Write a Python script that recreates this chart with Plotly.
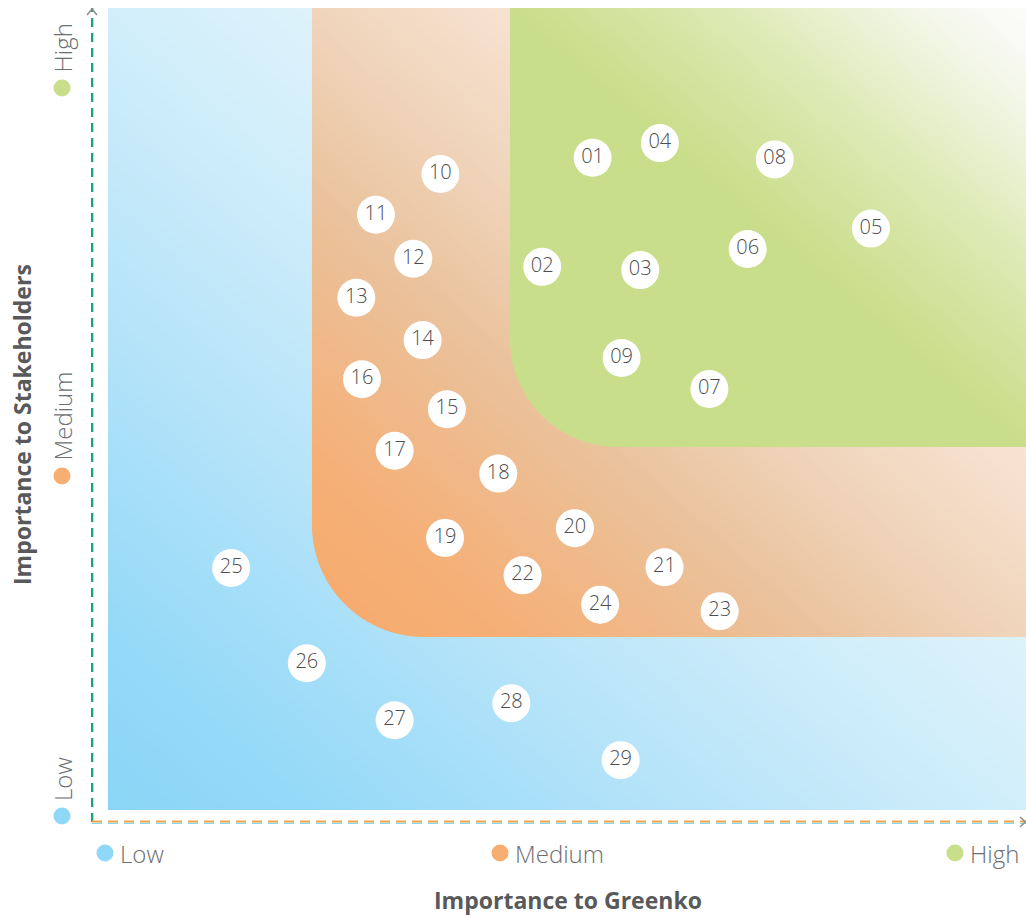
import base64
import struct
import zlib

import numpy as np
import plotly.graph_objects as go

# Materiality matrix: topic codes with scores on a 0-100 scale
topics = ["01", "02", "03", "04", "05", "06", "07", "08", "09", "10",
          "11", "12", "13", "14", "15", "16", "17", "18", "19", "20",
          "21", "22", "23", "24", "25", "26", "27", "28", "29"]
importance_greenko = [53.6, 48.2, 58.7, 60.8, 83.4, 70.2, 66.1, 73.1, 56.7, 37.3,
                      30.4, 34.4, 28.3, 35.4, 38.0, 28.9, 32.4, 43.5, 37.8, 51.7,
                      61.3, 46.1, 67.2, 54.4, 14.9, 23.0, 32.4, 44.9, 56.6]
importance_stakeholders = [81.6, 68.2, 67.8, 83.4, 72.9, 70.4, 53.2, 81.4, 57.0, 79.6,
                           74.6, 69.2, 64.4, 59.2, 50.7, 54.4, 45.6, 42.8, 34.9, 36.1,
                           31.3, 30.3, 25.9, 26.7, 31.2, 19.5, 12.5, 14.6, 7.6]

levels = ["Low", "Medium", "High"]
level_colors = ["#8fd8f8", "#f7ae72", "#c8de8a"]

# ---- page geometry ----
FIG_W, FIG_H = 1026, 918
M_L, M_R, M_T, M_B = 92, 0, 8, 96
PW, PH = FIG_W - M_L - M_R, FIG_H - M_T - M_B
SX, SY = PW / 100.0, PH / 100.0


def px(x):
    return M_L + x * SX


def py(y):
    return M_T + (100 - y) * SY


# zone boxes in data units (x0, y0) -> extend to the top-right corner
blue_zone = (1.713, 1.474)
orange_zone = (23.55, 22.73)
green_zone = (44.75, 46.07)
orange_radius, green_radius = 112, 108

blue_stops = [(0.0, "#8ad5f6"), (0.13, "#97daf8"), (0.32, "#b7e4f9"),
              (0.5, "#d1eefa"), (0.65, "#e2f4fc"), (1.0, "#f0faff")]
orange_stops = [(0.0, "#f7aa6a"), (0.15, "#f5b078"), (0.35, "#eac29c"),
                (0.5, "#f0d5bc"), (0.65, "#f8e3d3"), (1.0, "#fdf1e9")]
green_stops = [(0.0, "#c9de8a"), (0.5, "#c9de8a"), (0.6, "#d3e39e"),
               (0.7, "#dde9b3"), (0.8, "#e9f0cf"), (0.9, "#f4f7ea"), (1.0, "#fcfcfb")]


def hex_rgb(h):
    return [int(h[i:i + 2], 16) for i in (1, 3, 5)]


def gradient(stops, t):
    pos = [s[0] for s in stops]
    cols = np.array([hex_rgb(s[1]) for s in stops], float)
    return np.stack([np.interp(t, pos, cols[:, k]) for k in range(3)], -1)


def zone_layer(xx, yy, zone, stops, radius):
    left, bottom = px(zone[0]), py(zone[1])
    right, top = px(100), py(100)
    t = ((xx - left) / (right - left) + (bottom - yy) / (bottom - top)) / 2
    t = np.clip(t, 0, 1)
    col = gradient(stops, t)
    a = np.clip(xx - left + 0.5, 0, 1) * np.clip(bottom - yy + 0.5, 0, 1)
    if radius:
        cx, cy = left + radius, bottom - radius
        corner = (xx < cx) & (yy > cy)
        d = np.hypot(xx - cx, yy - cy)
        a = np.where(corner, np.clip(radius - d + 0.5, 0, 1), a)
    return col, a[..., None]


def png_data_uri(img):
    h, w, _ = img.shape
    raw = b"".join(b"\x00" + img[r].tobytes() for r in range(h))

    def chunk(tag, data):
        return (struct.pack(">I", len(data)) + tag + data
                + struct.pack(">I", zlib.crc32(tag + data) & 0xFFFFFFFF))

    png = (b"\x89PNG\r\n\x1a\n"
           + chunk(b"IHDR", struct.pack(">IIBBBBB", w, h, 8, 2, 0, 0, 0))
           + chunk(b"IDAT", zlib.compress(raw, 9))
           + chunk(b"IEND", b""))
    return "data:image/png;base64," + base64.b64encode(png).decode()


# background raster: blue field, orange L-band, green top-right block
bx0, by1 = px(blue_zone[0]), py(blue_zone[1])
bx1, by0 = px(100), py(100)
iw, ih = int(round(bx1 - bx0)), int(round(by1 - by0))
xx, yy = np.meshgrid(bx0 + np.arange(iw) + 0.5, by0 + np.arange(ih) + 0.5)

img, _ = zone_layer(xx, yy, blue_zone, blue_stops, 0)
for zone, stops, rad in [(orange_zone, orange_stops, orange_radius),
                         (green_zone, green_stops, green_radius)]:
    col, a = zone_layer(xx, yy, zone, stops, rad)
    img = img * (1 - a) + col * a
img = np.clip(np.round(img), 0, 255).astype(np.uint8)

fig = go.Figure()

fig.add_trace(go.Scatter(
    x=importance_greenko, y=importance_stakeholders,
    mode="markers+text", text=topics, textposition="middle center",
    marker=dict(size=38, color="white", line=dict(width=0)),
    textfont=dict(family="Open Sans", size=20, color="#4d4d4d", weight=300),
    hoverinfo="text", showlegend=False, cliponaxis=False,
))

shapes = []
annotations = []


def ppx(p):
    return (p - M_L) / PW


def ppy(p):
    return (FIG_H - M_B - p) / PH


# dashed axis lines
shapes.append(dict(type="line", xref="paper", yref="paper", x0=ppx(93.6), x1=ppx(93.6), y0=0, y1=1,
                   line=dict(color="#e2d77a", width=1, dash="9px,6px")))
shapes.append(dict(type="line", xref="paper", yref="paper", x0=0, x1=0, y0=0, y1=1,
                   line=dict(color="#16a38a", width=2, dash="9px,6px")))
shapes.append(dict(type="line", xref="paper", yref="paper", x0=0, x1=1, y0=ppy(823.4), y1=ppy(823.4),
                   line=dict(color="#86d9e6", width=1.2, dash="10px,6px")))
shapes.append(dict(type="line", xref="paper", yref="paper", x0=0, x1=1, y0=ppy(821.5), y1=ppy(821.5),
                   line=dict(color="#f2a54a", width=2, dash="10px,6px")))

# arrow heads
shapes.append(dict(type="path", xref="paper", yref="paper",
                   path=f"M{ppx(87)},{ppy(15)} L{ppx(92)},{ppy(9)} L{ppx(97)},{ppy(15)}",
                   line=dict(color="#8c8c8c", width=1.5)))
shapes.append(dict(type="path", xref="paper", yref="paper",
                   path=f"M{ppx(1020)},{ppy(817)} L{ppx(1025.5)},{ppy(822)} L{ppx(1020)},{ppy(827)}",
                   line=dict(color="#8c8c8c", width=1.5)))

label_font = dict(family="Open Sans", size=24, color="#6d6e71", weight=300)

# level markers along the horizontal axis
x_level_dots = [105, 500, 955]
for name, col, dx in zip(levels, level_colors, x_level_dots):
    shapes.append(dict(type="circle", xref="paper", yref="paper",
                       xsizemode="pixel", ysizemode="pixel",
                       xanchor=ppx(dx), yanchor=ppy(853),
                       x0=-8.5, x1=8.5, y0=-8.5, y1=8.5,
                       fillcolor=col, line=dict(width=0)))
    annotations.append(dict(xref="paper", yref="paper", x=ppx(dx + 13), y=ppy(853),
                            xanchor="left", yanchor="middle", showarrow=False, text=name,
                            font=label_font))

# level markers along the vertical axis
y_level_dots = [816, 476, 88]
for name, col, dy in zip(levels, level_colors, y_level_dots):
    shapes.append(dict(type="circle", xref="paper", yref="paper",
                       xsizemode="pixel", ysizemode="pixel",
                       xanchor=ppx(62), yanchor=ppy(dy),
                       x0=-8.5, x1=8.5, y0=-8.5, y1=8.5,
                       fillcolor=col, line=dict(width=0)))
    annotations.append(dict(xref="paper", yref="paper", x=ppx(62), y=ppy(dy - 13),
                            xanchor="center", yanchor="bottom", showarrow=False, text=name,
                            textangle=-90, font=label_font))

# axis titles
title_font = dict(family="Open Sans", size=23, color="#58595b", weight=700)
annotations.append(dict(xref="paper", yref="paper", x=ppx(568), y=ppy(900),
                        xanchor="center", yanchor="middle", showarrow=False,
                        text="Importance to Greenko", font=title_font))
annotations.append(dict(xref="paper", yref="paper", x=ppx(22), y=ppy(425),
                        xanchor="center", yanchor="middle", showarrow=False,
                        text="Importance to Stakeholders", textangle=-90, font=title_font))

fig.update_layout(
    width=FIG_W, height=FIG_H,
    margin=dict(l=M_L, r=M_R, t=M_T, b=M_B),
    paper_bgcolor="white", plot_bgcolor="white",
    xaxis=dict(range=[0, 100], visible=False, fixedrange=True),
    yaxis=dict(range=[0, 100], visible=False, fixedrange=True),
    images=[dict(source=png_data_uri(img), xref="x", yref="y",
                 x=blue_zone[0], y=100, sizex=100 - blue_zone[0], sizey=100 - blue_zone[1],
                 xanchor="left", yanchor="top", sizing="stretch", layer="below")],
    shapes=shapes,
    annotations=annotations,
)

fig.write_html("out.html")
